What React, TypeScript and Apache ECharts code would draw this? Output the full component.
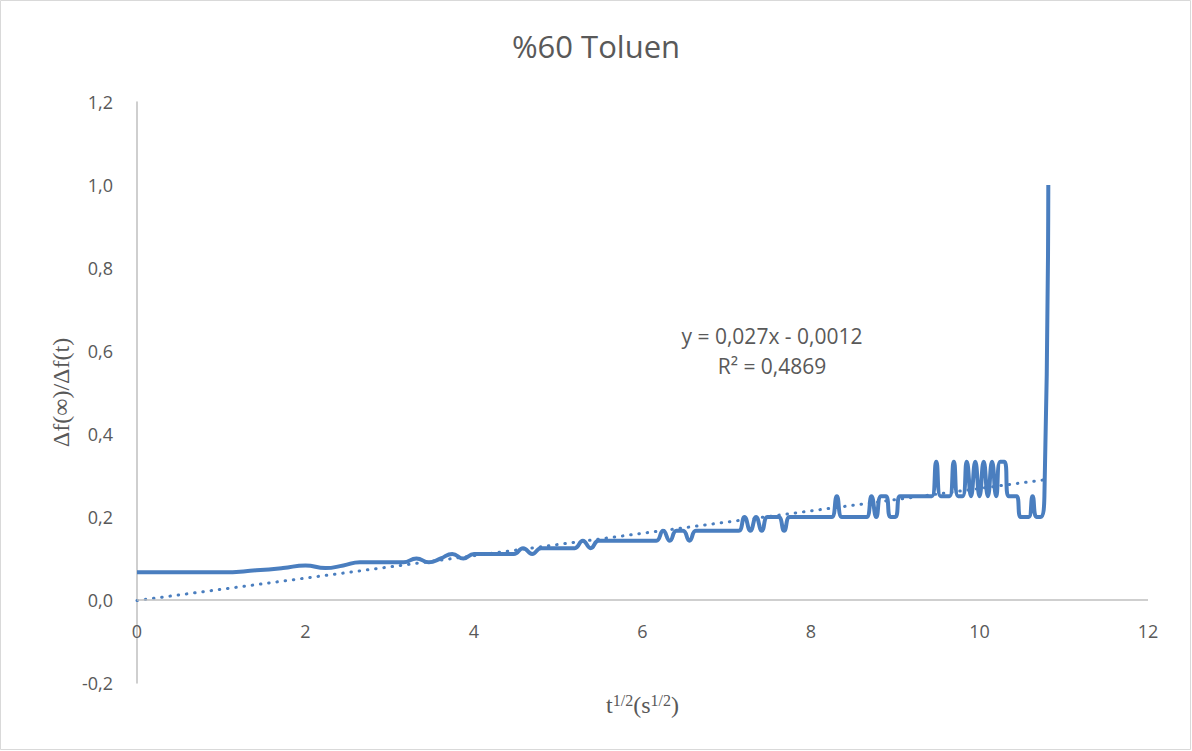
import React, { useEffect, useRef } from "react";
import * as echarts from "echarts";

// Elapsed time of each reading, in seconds
const timeSec = [
  0, 1, 2, 3, 4, 5, 6, 7, 8, 9, 10, 11, 12, 13, 14, 15, 16, 17, 18, 19,
  20, 21, 22, 23, 24, 25, 26, 27, 28, 29, 30, 31, 32, 33, 34, 35, 36, 37, 38, 39,
  40, 41, 42, 43, 44, 45, 46, 47, 48, 49, 50, 51, 52, 53, 54, 55, 56, 57, 58, 59,
  60, 61, 62, 63, 64, 65, 66, 67, 68, 69, 70, 71, 72, 73, 74, 75, 76, 77, 78, 79,
  80, 81, 82, 83, 84, 85, 86, 87, 88, 89, 90, 91, 92, 93, 94, 95, 96, 97, 98, 99,
  100, 101, 102, 103, 104, 105, 106, 107, 108, 109, 110, 111, 112, 113, 114, 115, 116, 117,
];

// Frequency shift Δf(t) at each reading, relative to the final shift Δf(∞) = 1
const deltaF = [
  15, 15, 14, 13, 12, 13, 12, 11, 11, 11, 11, 10, 11, 10, 9, 10, 9, 9, 9, 9,
  9, 8, 9, 8, 8, 8, 8, 8, 7, 8, 7, 7, 7, 7, 7, 7, 7, 7, 7, 6,
  7, 6, 6, 7, 6, 6, 6, 6, 6, 6, 6, 6, 5, 6, 5, 6, 5, 5, 5, 6,
  5, 5, 5, 5, 5, 5, 5, 5, 5, 4, 5, 5, 5, 5, 5, 5, 4, 5, 4, 4,
  5, 5, 4, 4, 4, 4, 4, 4, 4, 4, 3, 4, 4, 4, 3, 4, 4, 3, 4, 3,
  4, 3, 4, 3, 4, 3, 3, 4, 4, 4, 5, 5, 5, 4, 5, 5, 4, 1,
];

// Linear fit shown on the chart
const fitSlope = 0.027;
const fitIntercept = -0.0012;
const fitR2 = "0,4869";

const yTicks = { min: -0.2, max: 1.2, interval: 0.2 };
const xTicks = { min: 0, max: 12, interval: 2 };

const BLUE = "#4A7EBF";
const TEXT = "#595959";
const AXIS = "#BFBFBF";

export default function App() {
  const ref = useRef<HTMLDivElement>(null);

  useEffect(() => {
    if (!ref.current) return;
    const chart = echarts.init(ref.current, undefined, { renderer: "svg" });

    const points = timeSec.map((t, i) => [Math.sqrt(t), 1 / deltaF[i]]);
    const xEnd = Math.sqrt(timeSec[timeSec.length - 1]);
    const fitLine = [
      [0, fitIntercept],
      [xEnd, fitSlope * xEnd + fitIntercept],
    ];

    const comma = (v: number) => v.toFixed(1).replace(".", ",");
    const num = (v: number) => String(v).replace(".", ",");

    chart.setOption({
      animation: false,
      backgroundColor: "#ffffff",
      title: {
        text: "%60 Toluen",
        left: "center",
        top: 25,
        textStyle: {
          fontFamily: "Open Sans",
          fontSize: 31,
          fontWeight: "normal",
          color: TEXT,
        },
      },
      grid: {
        left: 137,
        right: 44,
        top: 102,
        bottom: 68,
        outerBoundsMode: "none",
        containLabel: false,
      },
      xAxis: {
        type: "value",
        min: xTicks.min,
        max: xTicks.max,
        interval: xTicks.interval,
        axisLine: { show: false, onZero: false },
        axisTick: { show: false },
        splitLine: { show: false },
        axisLabel: {
          color: TEXT,
          fontFamily: "Open Sans",
          fontSize: 18,
          margin: -61,
        },
        name: "t{sup|1/2}(s{sup|1/2})",
        nameLocation: "middle",
        nameGap: 9,
        nameMoveOverlap: false,
        nameTextStyle: {
          fontFamily: "Liberation Serif",
          fontSize: 24,
          color: TEXT,
          rich: {
            sup: {
              fontFamily: "Liberation Serif",
              fontSize: 16,
              color: TEXT,
              verticalAlign: "top",
              padding: [0, 0, 10, 0],
            },
          },
        },
      },
      yAxis: {
        type: "value",
        min: yTicks.min,
        max: yTicks.max,
        interval: yTicks.interval,
        axisLine: { show: true, onZero: false, lineStyle: { color: AXIS, width: 1.5 } },
        axisTick: { show: false },
        splitLine: { show: false },
        axisLabel: {
          color: TEXT,
          fontFamily: "Open Sans",
          fontSize: 18,
          margin: 24,
          formatter: comma,
        },
        name: "Δf(∞)/Δf(t)",
        nameLocation: "middle",
        nameGap: 64,
        nameMoveOverlap: false,
        nameTextStyle: {
          fontFamily: "Liberation Serif",
          fontSize: 24,
          color: TEXT,
        },
      },
      graphic: [
        {
          type: "rect",
          shape: { x: 0.5, y: 0.5, width: 1190, height: 749 },
          style: { fill: "none", stroke: "#D9D9D9", lineWidth: 1 },
          silent: true,
        },
        {
          type: "text",
          x: 772,
          y: 336,
          style: {
            text: `y = ${num(fitSlope)}x - ${num(Math.abs(fitIntercept))}`,
            fontFamily: "Open Sans",
            fontSize: 21,
            fill: TEXT,
            align: "center",
            verticalAlign: "middle",
          },
        },
        {
          type: "text",
          x: 772,
          y: 366,
          style: {
            text: `R² = ${fitR2}`,
            fontFamily: "Open Sans",
            fontSize: 21,
            fill: TEXT,
            align: "center",
            verticalAlign: "middle",
          },
        },
      ],
      series: [
        {
          type: "line",
          data: points,
          smooth: 0.5,
          symbol: "none",
          lineStyle: { color: BLUE, width: 4 },
          z: 2,
          markLine: {
            silent: true,
            symbol: "none",
            label: { show: false },
            lineStyle: { color: AXIS, width: 1.5, type: "solid" },
            data: [{ yAxis: 0 }],
          },
        },
        {
          type: "line",
          data: fitLine,
          symbol: "none",
          lineStyle: { color: BLUE, width: 3, type: [0.5, 7.8], cap: "round" },
          z: 3,
        },
      ],
    });

    return () => chart.dispose();
  }, []);

  return (
    <div
      ref={ref}
      style={{ position: "fixed", left: 0, top: 0, width: 1192, height: 751 }}
    />
  );
}
